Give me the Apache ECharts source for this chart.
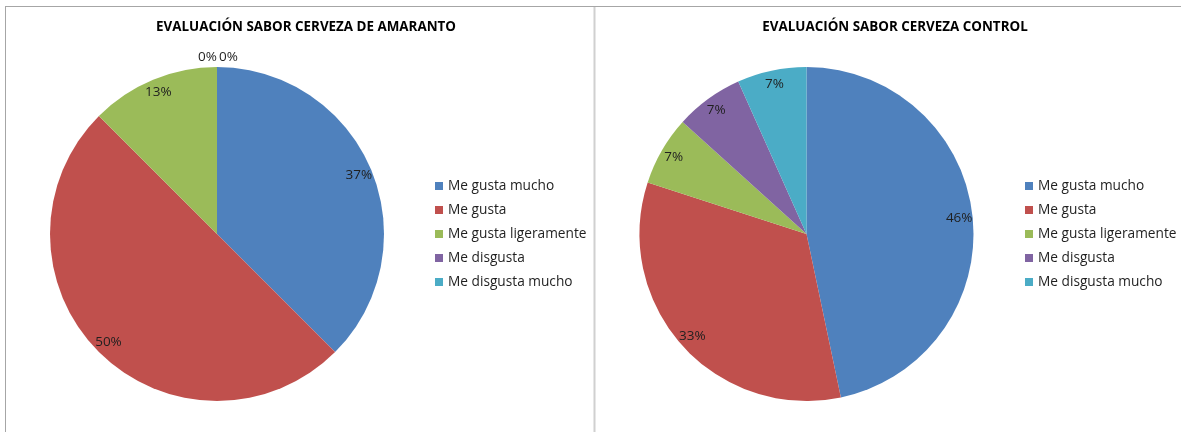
<!DOCTYPE html>
<html>
<head>
<meta charset="utf-8">
<script src="https://cdn.jsdelivr.net/npm/echarts@6/dist/echarts.min.js"></script>
<style>
  html, body { margin: 0; padding: 0; background: #fff; }
  #chart { width: 1181px; height: 432px; }
</style>
</head>
<body>
<div id="chart"></div>
<script>
// ---- data ----
const categories = ['Me gusta mucho', 'Me gusta', 'Me gusta ligeramente', 'Me disgusta', 'Me disgusta mucho'];
const colors = ['#4F81BD', '#C0504D', '#9BBB59', '#8064A2', '#4BACC6'];

const titleAmaranto = 'EVALUACIÓN SABOR CERVEZA DE AMARANTO';
const titleControl = 'EVALUACIÓN SABOR CERVEZA CONTROL';

const amarantoShare = [37.5, 50, 12.5, 0, 0];
const controlShare = [46.7, 33.3, 6.7, 6.6, 6.7];

// percentage labels as printed
const amarantoPct = [37, 50, 13, 0, 0];
const controlPct = [46, 33, 7, 7, 7];

const FONT = '"Open Sans", "Liberation Sans", sans-serif';

function pieData(share) {
  return categories.map((c, i) => ({ name: c, value: share[i] }));
}

function labelData(share) {
  return categories.map((c, i) => {
    const item = { name: c, value: share[i] };
    if (share[i] === 0) {
      item.label = { position: 'outside' };
    }
    return item;
  });
}

function basePie(center, share) {
  return {
    type: 'pie',
    center: center,
    radius: 167,
    startAngle: 90,
    clockwise: true,
    data: pieData(share),
    label: { show: false },
    labelLine: { show: false },
    itemStyle: { borderWidth: 0 },
    emphasis: { disabled: true },
    silent: true
  };
}

function labelPie(center, share, pct) {
  return {
    type: 'pie',
    center: center,
    radius: [134, 167],
    startAngle: 90,
    clockwise: true,
    avoidLabelOverlap: false,
    silent: true,
    emphasis: { disabled: true },
    itemStyle: { color: 'rgba(0,0,0,0)', borderWidth: 0 },
    data: labelData(share),
    label: {
      show: true,
      position: 'inside',
      fontFamily: FONT,
      fontSize: 13.5,
      color: '#1f1f1f',
      distanceToLabelLine: 0,
      formatter: p => pct[p.dataIndex] + '%'
    },
    labelLine: { show: false, length: 10, length2: 0 },
    labelLayout: function (p) {
      if (share[p.dataIndex] !== 0) return {};
      const zeros = share.map((v, i) => v === 0 ? i : -1).filter(i => i >= 0);
      const k = zeros.indexOf(p.dataIndex);
      return k === 0 ? { align: 'right', dx: 0 } : { align: 'left', dx: 2 };
    }
  };
}

function legend(left) {
  return {
    orient: 'vertical',
    left: left,
    top: 178,
    padding: 0,
    itemWidth: 8,
    itemHeight: 8,
    itemGap: 8,
    icon: 'rect',
    selectedMode: false,
    data: categories,
    textStyle: { fontFamily: FONT, fontSize: 13.7, color: '#1f1f1f', lineHeight: 16 }
  };
}

const chart = echarts.init(document.getElementById('chart'), null, { renderer: 'canvas' });
chart.setOption({
  animation: false,
  color: colors,
  title: [
    { text: titleAmaranto, left: 301, top: 16, textAlign: 'center',
      textStyle: { fontFamily: FONT, fontSize: 13.4, fontWeight: 'bold', color: '#000' } },
    { text: titleControl, left: 890, top: 16, textAlign: 'center',
      textStyle: { fontFamily: FONT, fontSize: 13.4, fontWeight: 'bold', color: '#000' } }
  ],
  legend: [legend(435), legend(1025)],
  graphic: [
    { type: 'line', shape: { x1: 5, y1: 6.5, x2: 1181, y2: 6.5 }, style: { stroke: '#A6A6A6', lineWidth: 1 }, silent: true },
    { type: 'line', shape: { x1: 5.5, y1: 6, x2: 5.5, y2: 432 }, style: { stroke: '#A6A6A6', lineWidth: 1 }, silent: true },
    { type: 'line', shape: { x1: 594.5, y1: 7, x2: 594.5, y2: 432 }, style: { stroke: '#D0D0D0', lineWidth: 2 }, silent: true }
  ],
  series: [
    basePie([217, 234], amarantoShare),
    basePie([806.5, 234], controlShare),
    labelPie([217, 234], amarantoShare, amarantoPct),
    labelPie([806.5, 234], controlShare, controlPct)
  ]
});
</script>
</body>
</html>
